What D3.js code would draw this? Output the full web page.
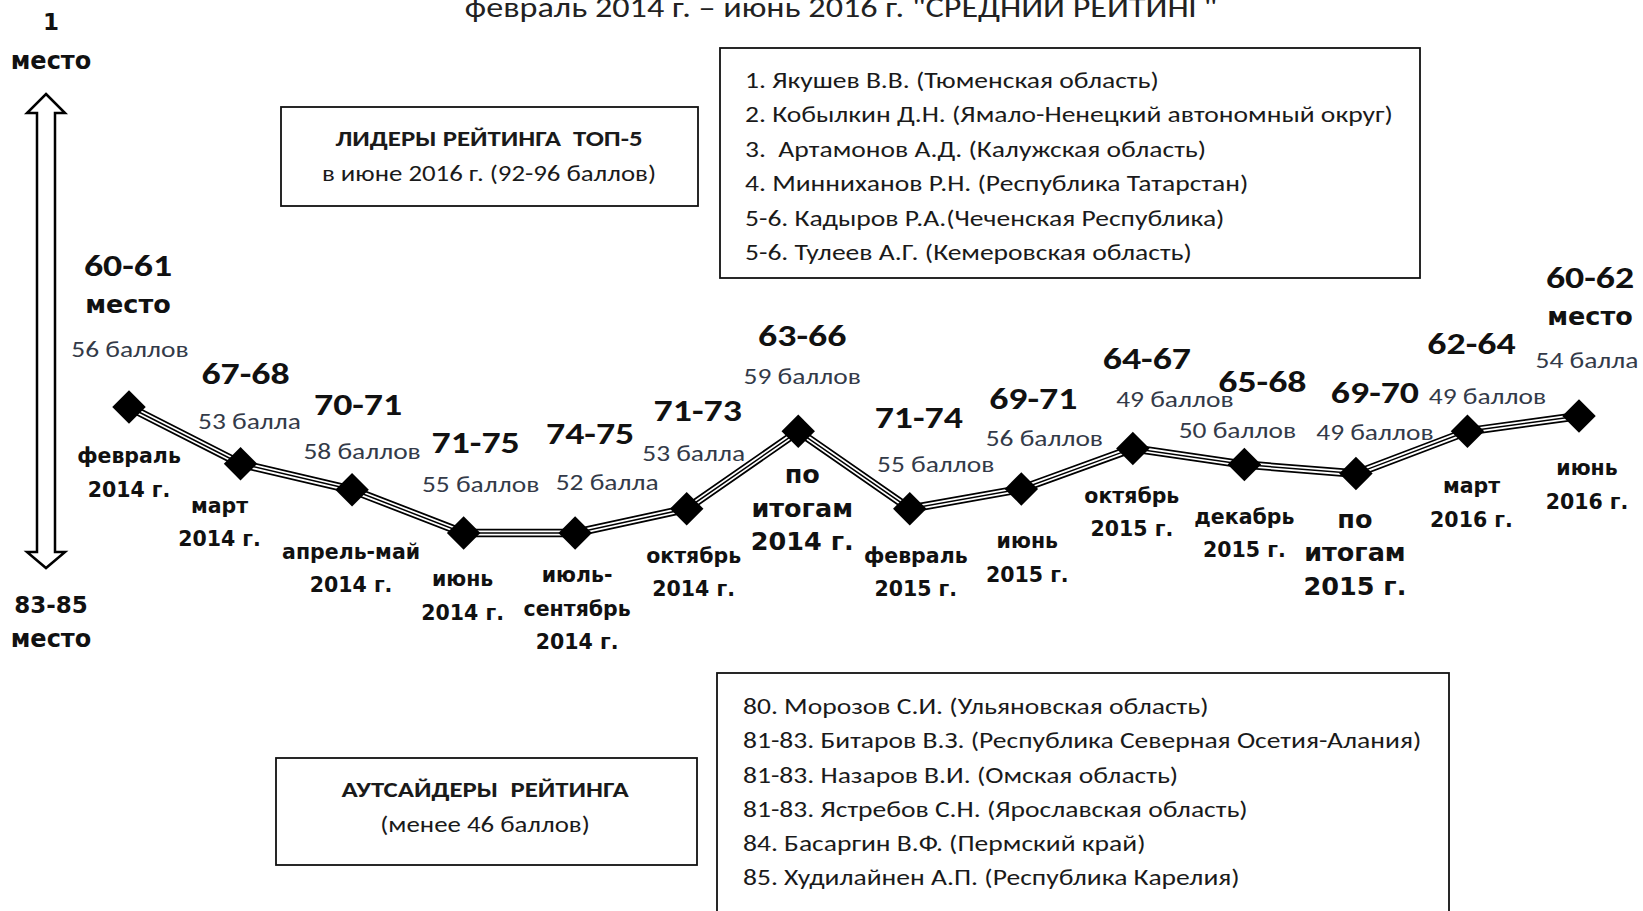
<!DOCTYPE html>
<meta charset="utf-8">
<style>
body { margin: 0; background: #fff; }
svg { display: block; }
.cal { font-family: Carlito, Calibri, Lato, sans-serif; white-space: pre; }
.ver { font-family: "DejaVu Sans", Verdana, sans-serif; font-weight: bold; }
</style>
<body>
<svg width="1643" height="911" id="chart"></svg>
<script src="https://d3js.org/d3.v7.min.js"></script>
<script>

// --- data ---
var periods = [
    ["февраль", "2014 г."], ["март", "2014 г."], ["апрель-май", "2014 г."],
    ["июнь", "2014 г."], ["июль-", "сентябрь", "2014 г."], ["октябрь", "2014 г."],
    ["по", "итогам", "2014 г."], ["февраль", "2015 г."], ["июнь", "2015 г."],
    ["октябрь", "2015 г."], ["декабрь", "2015 г."], ["по", "итогам", "2015 г."],
    ["март", "2016 г."], ["июнь", "2016 г."]
];
var places = ["60-61", "67-68", "70-71", "71-75", "74-75", "71-73", "63-66",
              "71-74", "69-71", "64-67", "65-68", "69-70", "62-64", "60-62"];
var scores = [56, 53, 58, 55, 52, 53, 59, 55, 56, 49, 50, 49, 49, 54];
// vertical level of each point, in "place" units as drawn
var level = [60.5, 66.8, 69.7, 74.5, 74.5, 71.8, 63.2, 71.8, 69.6, 65.1, 66.9, 67.9, 63.2, 61.5];

var title = "февраль 2014 г. – июнь 2016 г. \"СРЕДНИЙ РЕЙТИНГ\"";
var leadersHead = ["ЛИДЕРЫ РЕЙТИНГА  ТОП-5", "в июне 2016 г. (92-96 баллов)"];
var leaders = [
    "1. Якушев В.В. (Тюменская область)",
    "2. Кобылкин Д.Н. (Ямало-Ненецкий автономный округ)",
    "3.  Артамонов А.Д. (Калужская область)",
    "4. Минниханов Р.Н. (Республика Татарстан)",
    "5-6. Кадыров Р.А.(Чеченская Республика)",
    "5-6. Тулеев А.Г. (Кемеровская область)"
];
var outsidersHead = ["АУТСАЙДЕРЫ  РЕЙТИНГА", "(менее 46 баллов)"];
var outsiders = [
    "80. Морозов С.И. (Ульяновская область)",
    "81-83. Битаров В.З. (Республика Северная Осетия-Алания)",
    "81-83. Назаров В.И. (Омская область)",
    "81-83. Ястребов С.Н. (Ярославская область)",
    "84. Басаргин В.Ф. (Пермский край)",
    "85. Худилайнен А.П. (Республика Карелия)"
];

// --- label placement relative to each point ---
var placeOff = [[-1,-142],[5,-91],[6,-86],[12,-91],[15,-100],[11,-99],[4,-96],
                [9,-92],[12,-91],[14,-90],[18,-83],[19,-81],[4,-88],[11,-139]];
var scoreOff = [[1,-58],[9,-43],[10,-39],[17,-49],[32,-51],[7,-56],[4,-55],
                [26,-45],[23,-51],[42,-49],[-7,-34],[19,-41],[20,-35],[8,-56]];
var periodOff = [[0,49],[-21,42],[-1,62],[-1,46],[2,42],[7,47],[4,43],
                 [6,47],[6,52],[-1,47],[0,52],[-1,45],[4,55],[8,52]];

// the source text is a narrow face stretched sideways
var SX = 1.22;

function ballWord(n) {
    var m10 = n % 10, m100 = n % 100;
    if (m10 == 1 && m100 != 11) return "балл";
    if (m10 >= 2 && m10 <= 4 && (m100 < 12 || m100 > 14)) return "балла";
    return "баллов";
}

function at(px, py) {
    return "translate(" + px + "," + py + ") scale(" + SX + ",1)";
}

var svg = d3.select("svg");

var x = d3.scalePoint().domain(d3.range(periods.length)).range([129, 1579]);
var y = d3.scaleLinear().domain([60.5, 74.5]).range([407, 533]);

// title (cut at the top edge like the source)
svg.append("text").attr("class", "cal")
    .attr("transform", at(841, 17))
    .attr("text-anchor", "middle")
    .attr("font-size", 28).attr("fill", "#222")
    .text(title);

// vertical double arrow
var ax = 46;
svg.append("path")
    .attr("d", d3.line()([[ax,94],[ax+19,113],[ax+9,113],[ax+9,552],[ax+19,552],[ax,568],
                          [ax-19,552],[ax-9,552],[ax-9,113],[ax-19,113]]) + "Z")
    .attr("fill", "#fff").attr("stroke", "#000").attr("stroke-width", 2.5)
    .attr("stroke-linejoin", "miter");

var ends = [["1", 22, 23], ["место", 61, 24], ["83-85", 605, 23], ["место", 639, 24]];
svg.selectAll(".end").data(ends).enter().append("text")
    .attr("class", "ver end")
    .attr("x", 51).attr("y", function(d) { return d[1]; }).attr("dy", "0.35em")
    .attr("text-anchor", "middle").attr("font-size", function(d) { return d[2]; })
    .attr("fill", "#111")
    .text(function(d) { return d[0]; });

// boxes
function box(x0, y0, w, h) {
    svg.append("rect").attr("x", x0).attr("y", y0).attr("width", w).attr("height", h)
        .attr("fill", "none").attr("stroke", "#111").attr("stroke-width", 1.8);
}
box(281, 107, 417, 99);
box(720, 48, 700, 230);
box(276, 758, 421, 107);
box(717, 673, 732, 260);

svg.selectAll(".lh").data(leadersHead).enter().append("text")
    .attr("class", "cal lh")
    .attr("transform", function(d, i) { return at(489, 138 + i * 35); }).attr("dy", "0.35em")
    .attr("text-anchor", "middle").attr("font-size", 22)
    .attr("font-weight", function(d, i) { return i ? "normal" : "bold"; })
    .attr("fill", "#1a1a1a")
    .text(function(d) { return d; });

svg.selectAll(".oh").data(outsidersHead).enter().append("text")
    .attr("class", "cal oh")
    .attr("transform", function(d, i) { return at(485, 789 + i * 35); }).attr("dy", "0.35em")
    .attr("text-anchor", "middle").attr("font-size", 22)
    .attr("font-weight", function(d, i) { return i ? "normal" : "bold"; })
    .attr("fill", "#1a1a1a")
    .text(function(d) { return d; });

svg.selectAll(".ld").data(leaders).enter().append("text")
    .attr("class", "cal ld")
    .attr("transform", function(d, i) { return at(745, 80 + i * 34.5); }).attr("dy", "0.35em")
    .attr("font-size", 22.6).attr("fill", "#1a1a1a")
    .text(function(d) { return d; });

svg.selectAll(".os").data(outsiders).enter().append("text")
    .attr("class", "cal os")
    .attr("transform", function(d, i) { return at(743, 706 + i * 34.3); }).attr("dy", "0.35em")
    .attr("font-size", 22.6).attr("fill", "#1a1a1a")
    .text(function(d) { return d; });

// the rating line: black / white / black triple stroke
var pts = level.map(function(v, i) { return [x(i), y(v)]; });
var line = d3.line();
[["#000", 8.5], ["#fff", 5], ["#000", 1.5]].forEach(function(s) {
    svg.append("path").attr("d", line(pts))
        .attr("fill", "none").attr("stroke", s[0]).attr("stroke-width", s[1])
        .attr("stroke-linejoin", "miter");
});

svg.selectAll(".pt").data(pts).enter().append("path")
    .attr("class", "pt")
    .attr("d", d3.symbol(d3.symbolSquare, 560)())
    .attr("transform", function(d) { return "translate(" + d[0] + "," + d[1] + ") rotate(45)"; })
    .attr("fill", "#000");

// place labels
svg.selectAll(".pl").data(places).enter().append("text")
    .attr("class", "cal pl")
    .attr("transform", function(d, i) { return at(pts[i][0] + placeOff[i][0], pts[i][1] + placeOff[i][1]); })
    .attr("dy", "0.35em").attr("text-anchor", "middle")
    .attr("font-size", 31).attr("font-weight", "bold").attr("fill", "#111")
    .text(function(d) { return d; });

[0, places.length - 1].forEach(function(i) {
    svg.append("text").attr("class", "ver")
        .attr("x", pts[i][0] + placeOff[i][0])
        .attr("y", pts[i][1] + placeOff[i][1] + 39)
        .attr("dy", "0.35em").attr("text-anchor", "middle")
        .attr("font-size", 25.5).attr("fill", "#111")
        .text("место");
});

// score labels
svg.selectAll(".sc").data(scores).enter().append("text")
    .attr("class", "cal sc")
    .attr("transform", function(d, i) { return at(pts[i][0] + scoreOff[i][0], pts[i][1] + scoreOff[i][1]); })
    .attr("dy", "0.35em").attr("text-anchor", "middle")
    .attr("font-size", 22.5).attr("fill", "#333a48")
    .text(function(d) { return d + " " + ballWord(d); });

// period labels
var pg = svg.selectAll(".pd").data(periods).enter().append("text")
    .attr("class", "ver pd")
    .attr("text-anchor", "middle").attr("fill", "#111")
    .attr("font-size", function(d) { return d[0] == "по" ? 25.5 : 20.5; });
pg.selectAll("tspan").data(function(d, i) { return d.map(function(t) { return [t, i]; }); })
    .enter().append("tspan")
    .attr("x", function(d) { return pts[d[1]][0] + periodOff[d[1]][0]; })
    .attr("y", function(d, j) { return pts[d[1]][1] + periodOff[d[1]][1] + j * 33.5; })
    .attr("dy", "0.35em")
    .text(function(d) { return d[0]; });

</script>
</body>
